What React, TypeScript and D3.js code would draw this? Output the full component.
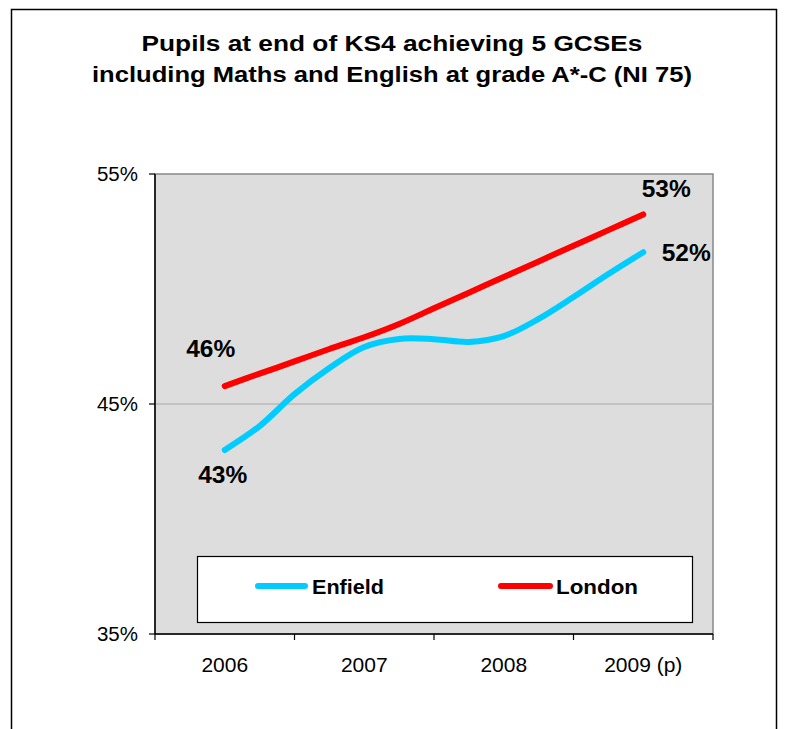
import React from "react";
import * as d3 from "d3";

const years = ["2006", "2007", "2008", "2009 (p)"];
// quarterly positions (0 = 2006, 3 = 2009)
const quarters = [0, 0.25, 0.5, 0.75, 1, 1.25, 1.5, 1.75, 2, 2.25, 2.5, 2.75, 3];
const enfield = [43.0, 44.04, 45.43, 46.57, 47.48, 47.83, 47.82, 47.7, 47.95, 48.7, 49.65, 50.65, 51.6];
const london = [45.78, 46.32, 46.85, 47.39, 47.9, 48.48, 49.16, 49.84, 50.52, 51.2, 51.88, 52.56, 53.24];
const yTicks = [35, 45, 55];
const endLabels = { enfieldStart: "43%", enfieldEnd: "52%", londonStart: "46%", londonEnd: "53%" };
const seriesNames = ["Enfield", "London"];

const W = 785;
const H = 729;
const plot = { left: 155, right: 713, top: 174, bottom: 634 };

export default function App() {
  const band = d3.scaleBand().domain(years).range([plot.left, plot.right]).padding(0);
  const x = (q: number) => (band(years[0]) as number) + band.bandwidth() / 2 + q * band.bandwidth();
  const y = d3.scaleLinear().domain([35, 55]).range([plot.bottom, plot.top]);
  const line = d3
    .line<number>()
    .x((_, i) => x(quarters[i]))
    .y((d) => y(d))
    .curve(d3.curveCatmullRom.alpha(0.5));

  const font = "'Liberation Sans', Arial, sans-serif";
  const bounds = years.map((yr) => band(yr) as number).concat([plot.right]);

  return (
    <svg width={W} height={H} style={{ position: "absolute", left: 0, top: 0 }} fontFamily={font}>
      <rect x={0} y={0} width={W} height={H} fill="#fff" />
      <rect x={11.5} y={9.5} width={765} height={H + 20} fill="none" stroke="#000" strokeWidth={1.5} />

      <text x={392} y={51} textAnchor="middle" fontWeight="bold" fontSize={22.5} textLength={501} lengthAdjust="spacingAndGlyphs">
        Pupils at end of KS4 achieving 5 GCSEs
      </text>
      <text x={392} y={82} textAnchor="middle" fontWeight="bold" fontSize={22.5} textLength={600} lengthAdjust="spacingAndGlyphs">
        including Maths and English at grade A*-C (NI 75)
      </text>

      <rect x={plot.left} y={plot.top} width={plot.right - plot.left} height={plot.bottom - plot.top} fill="#dddddd" stroke="#888" strokeWidth={1.5} />
      <line x1={plot.left} x2={plot.right} y1={y(45)} y2={y(45)} stroke="#a8a8a8" strokeWidth={1} />
      <line x1={plot.left} x2={plot.left} y1={plot.top} y2={plot.bottom} stroke="#000" strokeWidth={1.5} />
      <line x1={plot.left} x2={plot.right} y1={plot.bottom} y2={plot.bottom} stroke="#000" strokeWidth={1.5} />

      {yTicks.map((t) => (
        <g key={t}>
          <line x1={plot.left - 6} x2={plot.left} y1={y(t)} y2={y(t)} stroke="#000" strokeWidth={1.2} />
          <text x={138} y={y(t) + 7} textAnchor="end" fontSize={20.5}>
            {t}%
          </text>
        </g>
      ))}

      {bounds.map((b, i) => (
        <line key={i} x1={b} x2={b} y1={plot.bottom} y2={plot.bottom + 6} stroke="#000" strokeWidth={1.2} />
      ))}
      {years.map((yr) => (
        <text key={yr} x={(band(yr) as number) + band.bandwidth() / 2} y={672} textAnchor="middle" fontSize={21}>
          {yr}
        </text>
      ))}

      <path d={line(london) || ""} fill="none" stroke="#ff0000" strokeWidth={6} strokeLinecap="round" strokeLinejoin="round" />
      <path d={line(enfield) || ""} fill="none" stroke="#00ccff" strokeWidth={6} strokeLinecap="round" strokeLinejoin="round" />

      <g fontWeight="bold" fontSize={24.5}>
        <text x={x(0) - 2} y={483} textAnchor="middle">{endLabels.enfieldStart}</text>
        <text x={x(0) - 14} y={357} textAnchor="middle">{endLabels.londonStart}</text>
        <text x={x(3) + 23} y={197} textAnchor="middle">{endLabels.londonEnd}</text>
        <text x={x(3) + 43} y={261} textAnchor="middle">{endLabels.enfieldEnd}</text>
      </g>

      <rect x={197.5} y={556.5} width={495} height={66} fill="#fff" stroke="#000" strokeWidth={1.2} />
      <line x1={258} x2={305} y1={586} y2={586} stroke="#00ccff" strokeWidth={6} strokeLinecap="round" />
      <text x={312} y={594} fontWeight="bold" fontSize={20.5} textLength={72} lengthAdjust="spacingAndGlyphs">{seriesNames[0]}</text>
      <line x1={501} x2={550} y1={586} y2={586} stroke="#ff0000" strokeWidth={6} strokeLinecap="round" />
      <text x={556} y={594} fontWeight="bold" fontSize={20.5} textLength={82} lengthAdjust="spacingAndGlyphs">{seriesNames[1]}</text>
    </svg>
  );
}
